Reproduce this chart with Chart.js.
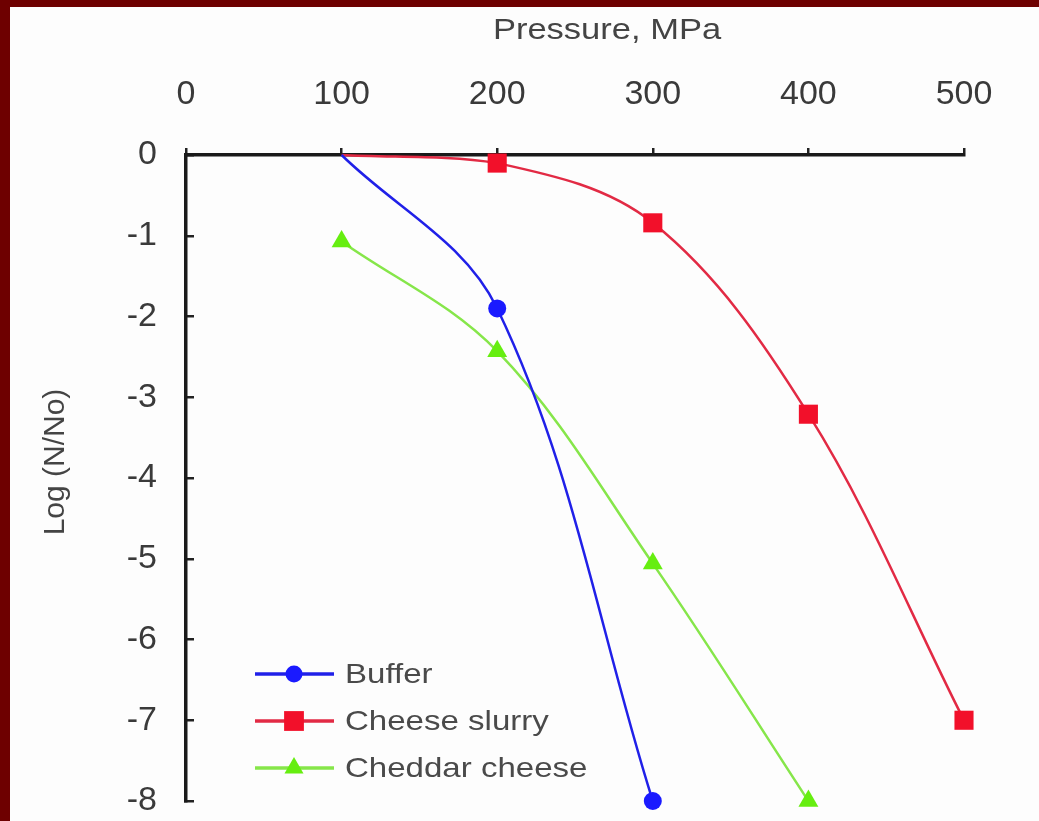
<!DOCTYPE html>
<html>
<head>
<meta charset="utf-8">
<script src="https://cdn.jsdelivr.net/npm/chart.js@4.4.1/dist/chart.umd.min.js"></script>
<style>
    html, body { margin: 0; padding: 0; background: #6e0000; overflow: hidden; }
    #wrap { position: absolute; left: 10px; top: 7px; width: 1029px; height: 814px; background: #fdfdfd; }
</style>
</head>
<body>
<div id="wrap"><canvas id="chart"></canvas></div>
<script>
// values
let bufferX = [100, 200, 300];
let bufferY = [0, -1.9, -8.0];
let slurryX = [100, 200, 300, 400, 500];
let slurryY = [0, -0.1, -0.84, -3.21, -7.0];
let cheddarX = [100, 200, 300, 400];
let cheddarY = [-1.07, -2.43, -5.06, -8.0];
let seriesNames = ['Buffer', 'Cheese slurry', 'Cheddar cheese'];
let xTitle = 'Pressure, MPa';
let yTitle = 'Log (N/No)';

let toPoints = function (xs, ys) {
    return xs.map(function (x, i) { return { x: x, y: ys[i] }; });
};

// first point of buffer/slurry sits on the axis without a marker
let hideFirst = function (r) {
    return function (c) { return c.dataIndex === 0 ? 0 : r; };
};

let textFont = '"Liberation Sans", Arial, sans-serif';

let extraText = {
    id: 'extraText',
    afterDatasetsDraw: function (chart) {
        let ctx = chart.ctx;
        let area = chart.chartArea;
        ctx.save();

        // legend inside the plot, bottom left
        chart.data.datasets.forEach(function (ds, i) {
            let y = area.bottom - 127 + i * 47;
            let x0 = area.left + 69;
            let x1 = area.left + 148;
            let xm = area.left + 108;
            ctx.strokeStyle = ds.borderColor;
            ctx.lineWidth = 3.5;
            ctx.beginPath();
            ctx.moveTo(x0, y);
            ctx.lineTo(x1, y);
            ctx.stroke();
            ctx.fillStyle = ds.pointBackgroundColor;
            Chart.helpers.drawPoint(ctx, {
                pointStyle: ds.pointStyle,
                radius: ds.legendRadius,
                rotation: 0,
                borderWidth: 0
            }, xm, y);

            ctx.save();
            ctx.translate(area.left + 159, y);
            ctx.scale(1.18, 1);
            ctx.fillStyle = '#4a4a4a';
            ctx.font = '28px ' + textFont;
            ctx.textAlign = 'left';
            ctx.textBaseline = 'middle';
            ctx.fillText(ds.label, 0, 1);
            ctx.restore();
        });

        // top title
        ctx.save();
        ctx.translate(area.left + 421, 24);
        ctx.scale(1.15, 1);
        ctx.fillStyle = '#444';
        ctx.font = '30px ' + textFont;
        ctx.textAlign = 'center';
        ctx.textBaseline = 'middle';
        ctx.fillText(xTitle, 0, 0);
        ctx.restore();

        // rotated y title
        ctx.save();
        ctx.translate(46, area.top + 307);
        ctx.rotate(-Math.PI / 2);
        ctx.fillStyle = '#444';
        ctx.font = '30px ' + textFont;
        ctx.textAlign = 'center';
        ctx.textBaseline = 'middle';
        ctx.fillText(yTitle, 0, 0);
        ctx.restore();

        ctx.restore();
    }
};

let chart = new Chart(document.getElementById('chart').getContext('2d'), {
    type: 'line',
    data: {
        datasets: [{
            label: seriesNames[0],
            data: toPoints(bufferX, bufferY),
            borderColor: '#2020e8',
            backgroundColor: '#1a1aff',
            pointBackgroundColor: '#1a1aff',
            pointStyle: 'circle',
            pointRadius: hideFirst(9),
            legendRadius: 8.5,
            pointBorderWidth: 0,
            borderWidth: 2.5,
            tension: 0.35,
            clip: false
        }, {
            label: seriesNames[1],
            data: toPoints(slurryX, slurryY),
            borderColor: '#e22a44',
            backgroundColor: '#f2102a',
            pointBackgroundColor: '#f2102a',
            pointStyle: 'rect',
            pointRadius: hideFirst(13.5),
            legendRadius: 14,
            pointBorderWidth: 0,
            borderWidth: 2.5,
            tension: 0.35,
            clip: false
        }, {
            label: seriesNames[2],
            data: toPoints(cheddarX, cheddarY),
            borderColor: '#86e64a',
            backgroundColor: '#66ee10',
            pointBackgroundColor: '#66ee10',
            pointStyle: 'triangle',
            pointRadius: 11.5,
            legendRadius: 11,
            pointBorderWidth: 0,
            borderWidth: 2.5,
            tension: 0.35,
            clip: false
        }]
    },
    options: {
        responsive: true,
        maintainAspectRatio: false,
        animation: false,
        layout: { padding: { top: 0, left: 0, right: 75, bottom: 20 } },
        plugins: {
            legend: { display: false },
            tooltip: { enabled: false }
        },
        scales: {
            x: {
                type: 'linear',
                position: 'top',
                min: 0,
                max: 500,
                afterFit: function (scale) {
                    scale.height = 148;
                    scale.paddingLeft = 0;
                    scale.paddingRight = 0;
                },
                border: { display: true, color: '#1a1a1a', width: 3.5 },
                grid: { display: true, drawOnChartArea: false, drawTicks: true, tickLength: 7, color: '#222', lineWidth: 2.5 },
                ticks: {
                    stepSize: 100,
                    padding: 33,
                    color: '#3a3a3a',
                    font: { family: textFont, size: 34 }
                }
            },
            y: {
                type: 'linear',
                min: -8,
                max: 0,
                afterFit: function (scale) {
                    scale.width = 176;
                    scale.paddingTop = 0;
                    scale.paddingBottom = 0;
                },
                border: { display: true, color: '#1a1a1a', width: 3.5 },
                grid: { display: true, drawOnChartArea: false, drawTicks: true, tickLength: -8, color: '#222', lineWidth: 2.5 },
                ticks: {
                    stepSize: 1,
                    padding: 37,
                    color: '#3a3a3a',
                    font: { family: textFont, size: 34 }
                }
            }
        }
    },
    plugins: [extraText]
});
</script>
</body>
</html>
